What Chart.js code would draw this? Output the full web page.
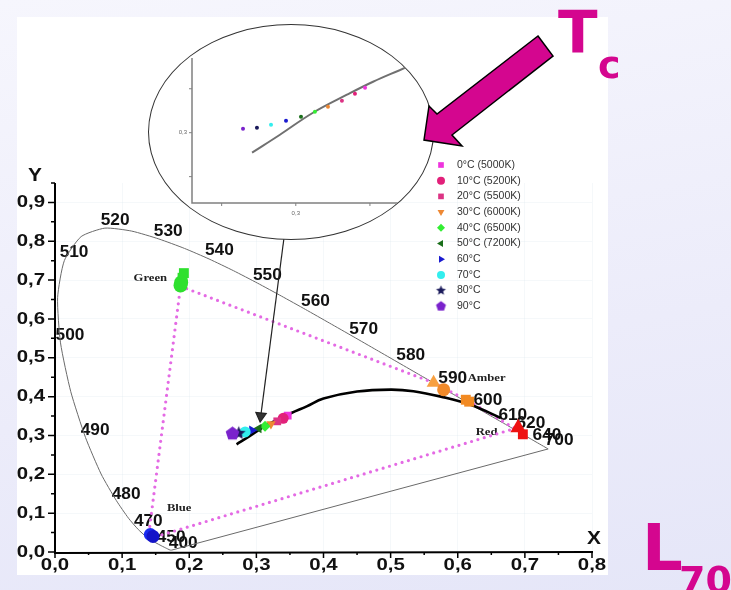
<!DOCTYPE html>
<html>
<head>
<meta charset="utf-8">
<script src="https://cdn.jsdelivr.net/npm/chart.js@4"></script>
<style>
  html, body { margin: 0; padding: 0; }
  body { width: 731px; height: 590px; overflow: hidden; position: relative;
         background: linear-gradient(170deg, #f6f6fd 0%, #ececfa 60%, #e5e6f8 100%); }
  #panel { position: absolute; left: 17px; top: 17px; width: 591px; height: 558px; background: #fff; }
  #main { position: absolute; left: 0; top: 0; }
  #insetBox { position: absolute; left: 148px; top: 24px; width: 284px; height: 214px;
              border: 1px solid #333; border-radius: 50%; overflow: hidden; background: #fff; }
  #inset { position: absolute; left: 0; top: 0; }
  #deco { position: absolute; left: 0; top: 0; pointer-events: none; }
</style>
</head>
<body>
<div id="panel"></div>
<canvas id="main" width="731" height="590"></canvas>
<div id="insetBox"><canvas id="inset" width="284" height="214"></canvas></div>
<svg id="deco" width="731" height="590">
  <polygon points="538,36 553,56 452,135 462,146 424,140 429,106 437,114"
           fill="#d4068f" stroke="#000" stroke-width="1.5" stroke-linejoin="miter"/>
  <text x="558" y="53" font-family="DejaVu Sans" font-weight="bold" font-size="58" fill="#d4068f">T</text>
  <text x="598" y="78" font-family="DejaVu Sans" font-weight="bold" font-size="38" fill="#d4068f">c</text>
  <text x="642" y="570" font-family="DejaVu Sans" font-weight="bold" font-size="64" fill="#d4068f">L</text>
  <text x="679" y="593" font-family="DejaVu Sans" font-weight="bold" font-size="38" fill="#d4068f">70</text>
</svg>
<script>
// ---------- data ----------
// CIE 1931 spectral locus (380 .. 700 nm)
const locusX = [0.1741,0.1733,0.1714,0.1644,0.1566,0.1440,0.1355,0.1241,0.1096,0.0913,0.0687,0.0454,0.0235,0.0082,0.0039,0.0139,0.0389,0.0743,0.1142,0.1547,0.1929,0.2296,0.2658,0.3016,0.3373,0.3731,0.4087,0.4441,0.4788,0.5125,0.5448,0.5752,0.6029,0.6270,0.6482,0.6658,0.6915,0.7079,0.7190,0.7300,0.7334,0.7347];
const locusY = [0.0050,0.0048,0.0051,0.0109,0.0177,0.0297,0.0399,0.0578,0.0868,0.1327,0.2007,0.2950,0.4127,0.5384,0.6548,0.7502,0.8120,0.8338,0.8262,0.8059,0.7816,0.7543,0.7243,0.6923,0.6589,0.6245,0.5896,0.5547,0.5202,0.4866,0.4544,0.4242,0.3965,0.3725,0.3514,0.3340,0.3083,0.2920,0.2809,0.2700,0.2666,0.2653];
const purpleX = [0.7347, 0.1741];
const purpleY = [0.2653, 0.0050];

// black body curve
const planckX = [0.2705,0.2893,0.3116,0.3345,0.3521,0.375,0.40,0.45,0.50,0.534,0.575,0.619,0.664];
const planckY = [0.2773,0.2977,0.3227,0.3432,0.358,0.375,0.395,0.413,0.418,0.414,0.400,0.379,0.345];

// RGBA gamut (dotted)
const gamutX = [0.187,0.565,0.617,0.685,0.155,0.140,0.187];
const gamutY = [0.684,0.435,0.388,0.318,0.042,0.050,0.684];

// LED colour points
const greenX = [0.192,0.190,0.188,0.187];
const greenY = [0.718,0.706,0.694,0.686];
const blueX = [0.142,0.146];
const blueY = [0.045,0.040];
const amberX = [0.564,0.579,0.612,0.617];
const amberY = [0.436,0.418,0.392,0.387];
const redX = [0.690,0.697];
const redY = [0.320,0.303];

// temperature series
const tempLabels = ['0°C (5000K)','10°C (5200K)','20°C (5500K)','30°C (6000K)','40°C (6500K)','50°C (7200K)','60°C','70°C','80°C','90°C'];
const tempX = [0.3467,0.3399,0.3311,0.3217,0.3129,0.3035,0.2934,0.2833,0.2738,0.2644];
const tempY = [0.3511,0.3443,0.3364,0.3295,0.3239,0.3182,0.3136,0.3091,0.3057,0.3045];

// arrow from the zoom to the cluster
const arrowX = [0.342, 0.3065];
const arrowY = [0.82, 0.350];

// wavelength labels
const wlText = ['520','530','540','510','500','550','560','570','580','590','600','610','620','640','700','490','480','470','450','400'];
const wlX = [0.0896,0.1687,0.2448,0.0284,0.0224,0.3164,0.388,0.4597,0.5299,0.5925,0.6448,0.682,0.709,0.733,0.751,0.0597,0.106,0.139,0.173,0.191];
const wlY = [0.853,0.825,0.776,0.771,0.557,0.711,0.644,0.572,0.505,0.446,0.389,0.351,0.330,0.299,0.286,0.312,0.149,0.077,0.036,0.021];
const ledText = ['Green','Blue','Amber','Red'];
const ledTX = [0.142,0.185,0.643,0.643];
const ledTY = [0.706,0.113,0.448,0.309];

const xTicks = [0,0.1,0.2,0.3,0.4,0.5,0.6,0.7,0.8];
const yTicks = [0,0.1,0.2,0.3,0.4,0.5,0.6,0.7,0.8,0.9];

// ---------- styles ----------
const tempColors = ['#ee33dd','#e2207a','#dc3384','#ee8833','#33ee33','#1a6e1a','#1a1ad0','#33eeee','#1a1a5a','#7a22cc'];
const tempShapes = ['rect','circle','rect','triangle','rectRot','triangle','triangle','circle','star5','pentagon'];
const tempRot = [0,0,0,180,0,-90,90,0,0,0];

function shapeCanvas(kind, r, color) {
  const c = document.createElement('canvas');
  const s = Math.ceil(r * 2 + 2);
  c.width = c.height = s;
  const g = c.getContext('2d');
  g.fillStyle = color;
  g.beginPath();
  const n = kind === 'star5' ? 10 : 5;
  for (let i = 0; i < n; i++) {
    const a = -Math.PI / 2 + i * 2 * Math.PI / n;
    const rr = (kind === 'star5' && i % 2) ? r * 0.45 : r;
    g.lineTo(s / 2 + rr * Math.cos(a), s / 2 + rr * Math.sin(a));
  }
  g.closePath();
  g.fill();
  return c;
}
function styleFor(i, r) {
  const k = tempShapes[i];
  return (k === 'star5' || k === 'pentagon') ? shapeCanvas(k, r * 1.3, tempColors[i]) : k;
}
const pts = (xs, ys) => xs.map((x, i) => ({ x: x, y: ys[i] }));

function txt(ctx, s, x, y, font, color, align, sx) {
  ctx.save();
  ctx.font = font;
  ctx.fillStyle = color;
  ctx.textAlign = align;
  ctx.textBaseline = 'middle';
  ctx.translate(x, y);
  ctx.scale(sx, 1);
  ctx.fillText(s, 0, 0);
  ctx.restore();
}
const fmt = v => v.toFixed(1).replace('.', ',');

// ---------- main chart ----------
const mainSets = [
  { data: pts(locusX, locusY), showLine: true, borderColor: '#6a6a6a', borderWidth: 1, pointRadius: 0, tension: 0.2, order: 20 },
  { data: pts(purpleX, purpleY), showLine: true, borderColor: '#6a6a6a', borderWidth: 1, pointRadius: 0, order: 20 },
  { data: pts(gamutX, gamutY), showLine: true, borderColor: '#e46ae4', borderWidth: 3.2, borderDash: [0, 6.6], borderCapStyle: 'round', pointRadius: 0, order: 19 },
  { data: pts(planckX, planckY), showLine: true, borderColor: '#000', borderWidth: 2.6, pointRadius: 0, tension: 0.4, order: 18 },
  { data: pts(greenX, greenY), pointStyle: ['rect','rect','circle','circle'], pointRadius: 7, backgroundColor: '#2ee02e', borderWidth: 0, order: 10 },
  { data: pts(blueX, blueY), pointStyle: 'circle', pointRadius: 6.5, backgroundColor: ['#1a2cf0','#1414c8'], borderWidth: 0, order: 10 },
  { data: pts(amberX, amberY), pointStyle: ['triangle','circle','rect','rect'], pointRadius: [8,6.5,7,7], backgroundColor: ['#f7a040','#f08a2a','#f28a22','#f28a22'], borderWidth: 0, order: 10 },
  { data: pts(redX, redY), pointStyle: ['triangle','rect'], pointRadius: [9,7], backgroundColor: '#ee1111', borderWidth: 0, order: 10 }
];
tempX.forEach((x, i) => {
  mainSets.push({ data: [{ x: x, y: tempY[i] }], pointStyle: styleFor(i, 5.5), rotation: tempRot[i],
    pointRadius: 5.5, backgroundColor: tempColors[i], borderWidth: 0, order: 5 - i * 0.1 });
});
mainSets.push({ data: pts(arrowX, arrowY), showLine: true, borderColor: '#222', borderWidth: 1.2,
  pointRadius: [0, 6], pointStyle: 'triangle', rotation: 186, backgroundColor: '#333', order: 1 });

const mainAxes = {
  id: 'mainAxes',
  beforeDatasetsDraw(chart) {
    const ctx = chart.ctx, sx = chart.scales.x, sy = chart.scales.y;
    const x0 = sx.getPixelForValue(0), y0 = sy.getPixelForValue(0);
    const yTop = sy.getPixelForValue(0.95), xEnd = sx.getPixelForValue(0.8);
    ctx.save();
    ctx.strokeStyle = '#000';
    ctx.lineWidth = 2;
    ctx.beginPath();
    ctx.moveTo(x0, yTop); ctx.lineTo(x0, y0 + 1); ctx.lineTo(xEnd + 1, y0);
    ctx.stroke();
    ctx.lineWidth = 1.5;
    ctx.beginPath();
    for (let v = 0; v <= 0.951; v += 0.05) {
      const p = sy.getPixelForValue(v), major = Math.round(v * 20) % 2 === 0;
      ctx.moveTo(x0, p); ctx.lineTo(x0 - (major ? 7 : 4), p);
    }
    for (let v = 0; v <= 0.801; v += 0.05) {
      const p = sx.getPixelForValue(v), major = Math.round(v * 20) % 2 === 0;
      ctx.moveTo(p, y0); ctx.lineTo(p, y0 + (major ? 6 : 3));
    }
    ctx.stroke();
    ctx.restore();
    const tf = 'bold 17px "Liberation Sans", Arial, sans-serif';
    yTicks.forEach(v => txt(ctx, fmt(v), x0 - 10, sy.getPixelForValue(v), tf, '#111', 'right', 1.2));
    xTicks.forEach(v => txt(ctx, fmt(v), sx.getPixelForValue(v), y0 + 13, tf, '#111', 'center', 1.2));
    txt(ctx, 'Y', x0 - 20, yTop - 7, 'bold 19px "Liberation Sans", Arial, sans-serif', '#111', 'center', 1.1);
    txt(ctx, 'X', xEnd + 2, y0 - 13, 'bold 19px "Liberation Sans", Arial, sans-serif', '#111', 'center', 1.1);
    wlText.forEach((t, i) => txt(ctx, t, sx.getPixelForValue(wlX[i]), sy.getPixelForValue(wlY[i]),
      'bold 16px "Liberation Sans", Arial, sans-serif', '#111', 'center', 1.08));
    ledText.forEach((t, i) => txt(ctx, t, sx.getPixelForValue(ledTX[i]), sy.getPixelForValue(ledTY[i]),
      'bold 11px "Liberation Serif", "Times New Roman", serif', '#222', 'center', 1.15));
  },
  afterDraw(chart) {
    const ctx = chart.ctx;
    tempLabels.forEach((t, i) => {
      const y = 165 + i * 15.7;
      ctx.save();
      ctx.fillStyle = tempColors[i];
      Chart.helpers.drawPoint(ctx, { pointStyle: styleFor(i, 4), rotation: tempRot[i], radius: 4, borderWidth: 0 }, 441, y);
      ctx.restore();
      txt(ctx, t, 457, y, '10.5px "Liberation Sans", Arial, sans-serif', '#333', 'left', 1.0);
    });
  }
};

new Chart(document.getElementById('main'), {
  type: 'scatter',
  data: { datasets: mainSets },
  options: {
    responsive: false, animation: false, devicePixelRatio: 1,
    layout: { padding: { left: 55, right: 139, top: 183, bottom: 38 } },
    plugins: { legend: { display: false }, tooltip: { enabled: false } },
    scales: {
      x: { type: 'linear', min: 0, max: 0.8, ticks: { display: false, stepSize: 0.1, includeBounds: false },
           grid: { color: 'rgba(210,222,230,0.22)', drawTicks: false }, border: { display: false } },
      y: { type: 'linear', min: 0, max: 0.95, ticks: { display: false, stepSize: 0.1, includeBounds: false },
           grid: { color: 'rgba(210,222,230,0.22)', drawTicks: false }, border: { display: false } }
    }
  },
  plugins: [mainAxes]
});

// ---------- zoomed inset ----------
const insetSets = [
  { data: pts(planckX, planckY), showLine: true, borderColor: '#707070', borderWidth: 2, pointRadius: 0, tension: 0.4, order: 10 }
];
tempX.forEach((x, i) => {
  insetSets.push({ data: [{ x: x, y: tempY[i] }], pointStyle: 'circle', pointRadius: 2,
    backgroundColor: tempColors[i], borderWidth: 0, order: 1 });
});
const insetAxes = {
  id: 'insetAxes',
  beforeDatasetsDraw(chart) {
    const ctx = chart.ctx, sx = chart.scales.x, sy = chart.scales.y;
    const x0 = sx.left, y0 = sy.bottom;
    ctx.save();
    ctx.strokeStyle = '#808080';
    ctx.lineWidth = 1.5;
    ctx.beginPath();
    ctx.moveTo(x0, sy.top); ctx.lineTo(x0, y0); ctx.lineTo(sx.right, y0);
    ctx.stroke();
    ctx.lineWidth = 1;
    ctx.beginPath();
    [0.25, 0.3, 0.35].forEach(v => {
      const py = sy.getPixelForValue(v), px = sx.getPixelForValue(v);
      ctx.moveTo(x0, py); ctx.lineTo(x0 - 3, py);
      ctx.moveTo(px, y0); ctx.lineTo(px, y0 + 3);
    });
    ctx.stroke();
    ctx.restore();
    txt(ctx, '0,3', x0 - 5, sy.getPixelForValue(0.3), '6px "Liberation Sans", Arial, sans-serif', '#666', 'right', 1);
    txt(ctx, '0,3', sx.getPixelForValue(0.3), y0 + 10, '6px "Liberation Sans", Arial, sans-serif', '#666', 'center', 1);
    txt(ctx, 'Y', x0 - 10, sy.top - 6, '7px "Liberation Sans", Arial, sans-serif', '#555', 'center', 1);
    txt(ctx, 'X', sx.right, y0 - 5, '7px "Liberation Sans", Arial, sans-serif', '#555', 'center', 1);
  }
};
new Chart(document.getElementById('inset'), {
  type: 'scatter',
  data: { datasets: insetSets },
  options: {
    responsive: false, animation: false, devicePixelRatio: 1,
    layout: { padding: { left: 43, right: 26, top: 33, bottom: 36 } },
    plugins: { legend: { display: false }, tooltip: { enabled: false } },
    scales: {
      x: { type: 'linear', min: 0.23, max: 0.375, display: false },
      y: { type: 'linear', min: 0.22, max: 0.385, display: false }
    }
  },
  plugins: [insetAxes]
});
</script>
</body>
</html>
